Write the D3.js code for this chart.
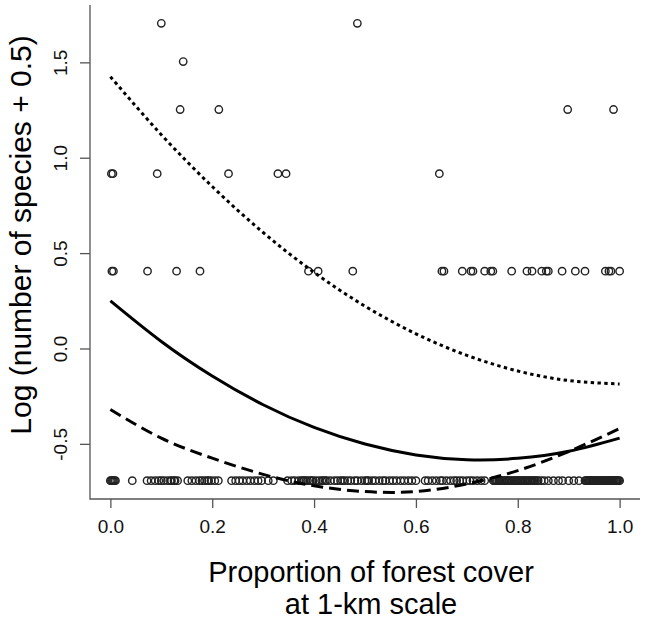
<!DOCTYPE html>
<html>
<head>
<meta charset="utf-8">
<script src="https://cdn.jsdelivr.net/npm/d3@7"></script>
<style>
  body { margin: 0; background: #fff; }
  svg { display: block; font-family: "Liberation Sans", Arial, sans-serif; }
</style>
</head>
<body>
<div id="chart"></div>
<script>
(function(d3) {
    'use strict'

    // species counts observed, and the forest cover of the sites for each count
    var counts = [0, 1, 2, 3, 4, 5];
    var coverByCount = [
        // 0 species
        [0, 0.002, 0.004, 0.006, 0.008, 0.01,
         0.043,
         0.072, 0.08, 0.088, 0.095, 0.1, 0.105, 0.112, 0.118, 0.12, 0.125, 0.127, 0.132,
         0.152, 0.16, 0.168, 0.175, 0.18, 0.185, 0.19, 0.193, 0.198, 0.205, 0.212,
         0.238, 0.246, 0.253, 0.26, 0.268, 0.275, 0.283, 0.29, 0.297, 0.31, 0.32,
         0.348, 0.356, 0.362, 0.37, 0.375, 0.378, 0.38, 0.384, 0.387, 0.392, 0.395, 0.398,
         0.404, 0.41, 0.415, 0.418, 0.422, 0.425, 0.432, 0.44, 0.446, 0.452, 0.456, 0.46,
         0.466, 0.472, 0.48, 0.485, 0.493, 0.5, 0.504, 0.507, 0.514, 0.52, 0.528, 0.535,
         0.54, 0.548, 0.555, 0.562, 0.57, 0.577, 0.585, 0.592, 0.6,
         0.618, 0.624, 0.632, 0.64, 0.648, 0.652, 0.66, 0.668, 0.675, 0.68, 0.686, 0.692,
         0.7, 0.706, 0.712, 0.72, 0.728, 0.735,
         0.752, 0.754, 0.756, 0.758, 0.76, 0.763, 0.765, 0.768, 0.77, 0.773, 0.775, 0.778,
         0.78, 0.782, 0.784, 0.787, 0.79, 0.793, 0.795, 0.798, 0.8, 0.803, 0.805, 0.808,
         0.81, 0.813, 0.815, 0.818, 0.82, 0.823, 0.825, 0.828, 0.83, 0.833, 0.835, 0.838,
         0.84, 0.846, 0.852, 0.86, 0.87, 0.88, 0.888, 0.9, 0.91, 0.92,
         0.932, 0.934, 0.936, 0.938, 0.94, 0.942, 0.943, 0.945, 0.946, 0.948, 0.95, 0.952,
         0.953, 0.955, 0.956, 0.958, 0.96, 0.962, 0.963, 0.965, 0.966, 0.968, 0.97, 0.972,
         0.973, 0.975, 0.976, 0.978, 0.98, 0.982, 0.983, 0.985, 0.986, 0.988, 0.99, 0.992,
         0.993, 0.995, 0.996, 0.998, 1.0],
        // 1 species
        [0.003, 0.006, 0.073, 0.13, 0.176, 0.389, 0.408, 0.476, 0.651, 0.655, 0.691,
         0.708, 0.712, 0.735, 0.747, 0.751, 0.788, 0.818, 0.828, 0.847, 0.856, 0.86,
         0.887, 0.913, 0.932, 0.972, 0.979, 0.983, 1.0],
        // 2 species
        [0.002, 0.005, 0.092, 0.232, 0.329, 0.345, 0.646],
        // 3 species
        [0.137, 0.213, 0.898, 0.988],
        // 4 species
        [0.143],
        // 5 species
        [0.1, 0.485]
    ];

    // fitted curve and its bounds, read at these cover values
    var curveCover = [0, 0.1, 0.2, 0.3, 0.4, 0.5, 0.6, 0.7, 0.8, 0.9, 1.0];
    var fitted = [0.25, 0.037, -0.144, -0.295, -0.414, -0.501, -0.558, -0.583, -0.576, -0.539, -0.47];
    var upper = [1.425, 1.121, 0.849, 0.608, 0.399, 0.222, 0.077, -0.036, -0.118, -0.168, -0.186];
    var lower = [-0.32, -0.47, -0.575, -0.66, -0.72, -0.75, -0.75, -0.71, -0.64, -0.54, -0.42];

    var xTicks = [0, 0.2, 0.4, 0.6, 0.8, 1.0];
    var yTicks = [-0.5, 0, 0.5, 1.0, 1.5];

    var width = 648;
    var height = 620;
    var left = 90, right = 640, top = 5, bottom = 499;

    var points = [];
    counts.forEach(function(c, i) {
        coverByCount[i].forEach(function(x) {
            points.push({ x: x, y: Math.log(c + 0.5) });
        });
    });

    var yMin = d3.min(points, function(d) { return d.y; });
    var yMax = d3.max(points, function(d) { return d.y; });
    var yPad = (yMax - yMin) * 0.04;

    var x = d3.scaleLinear().domain([-0.04, 1.04]).range([left, right]);
    var y = d3.scaleLinear().domain([yMin - yPad, yMax + yPad]).range([bottom, top]);

    var fmt = function(d) { return d.toFixed(1); };

    var svg = d3.select('#chart')
        .append('svg')
        .attr('width', width)
        .attr('height', height);

    // axes, R style with an L-shaped frame
    var axisColor = '#555';
    svg.append('path')
        .attr('d', 'M' + left + ',' + top + 'V' + bottom + 'H' + right)
        .attr('fill', 'none')
        .attr('stroke', axisColor)
        .attr('stroke-width', 1.3);

    var xAxis = svg.append('g')
        .attr('transform', 'translate(0,' + bottom + ')')
        .call(d3.axisBottom(x).tickValues(xTicks).tickSize(9).tickSizeOuter(0).tickFormat(fmt));
    xAxis.select('.domain').remove();
    xAxis.selectAll('line').attr('stroke', axisColor).attr('stroke-width', 1.3);
    xAxis.selectAll('text')
        .attr('y', 34)
        .attr('dy', 0)
        .attr('fill', '#111')
        .style('font-size', '19px');

    var yAxis = svg.append('g')
        .attr('transform', 'translate(' + left + ',0)')
        .call(d3.axisLeft(y).tickValues(yTicks).tickSize(10).tickSizeOuter(0).tickFormat(fmt));
    yAxis.select('.domain').remove();
    yAxis.selectAll('line').attr('stroke', axisColor).attr('stroke-width', 1.3);
    yAxis.selectAll('text')
        .attr('x', 0)
        .attr('dy', 0)
        .attr('transform', 'translate(-23,0) rotate(-90)')
        .attr('text-anchor', 'middle')
        .attr('fill', '#111')
        .style('font-size', '19px');

    // observations
    svg.append('g')
        .selectAll('circle')
        .data(points)
        .enter()
        .append('circle')
        .attr('cx', function(d) { return x(d.x); })
        .attr('cy', function(d) { return y(d.y); })
        .attr('r', 3.7)
        .attr('fill', 'none')
        .attr('stroke', '#222')
        .attr('stroke-width', 1.4);

    var line = d3.line()
        .x(function(d) { return x(d[0]); })
        .y(function(d) { return y(d[1]); })
        .curve(d3.curveNatural);

    var curves = [
        { values: fitted, dash: null },
        { values: upper, dash: '3.4 3.4' },
        { values: lower, dash: '12 6' }
    ];

    svg.append('g')
        .selectAll('path')
        .data(curves)
        .enter()
        .append('path')
        .attr('d', function(c) { return line(d3.zip(curveCover, c.values)); })
        .attr('fill', 'none')
        .attr('stroke', '#000')
        .attr('stroke-width', 3)
        .attr('stroke-dasharray', function(c) { return c.dash; });

    // axis titles
    svg.append('text')
        .attr('x', 371)
        .attr('y', 582)
        .attr('text-anchor', 'middle')
        .style('font-size', '29px')
        .text('Proportion of forest cover');
    svg.append('text')
        .attr('x', 371)
        .attr('y', 614)
        .attr('text-anchor', 'middle')
        .style('font-size', '29px')
        .text('at 1-km scale');
    svg.append('text')
        .attr('transform', 'translate(31,235) rotate(-90)')
        .attr('text-anchor', 'middle')
        .style('font-size', '30px')
        .text('Log (number of species + 0.5)');

})(window.d3);
</script>
</body>
</html>
